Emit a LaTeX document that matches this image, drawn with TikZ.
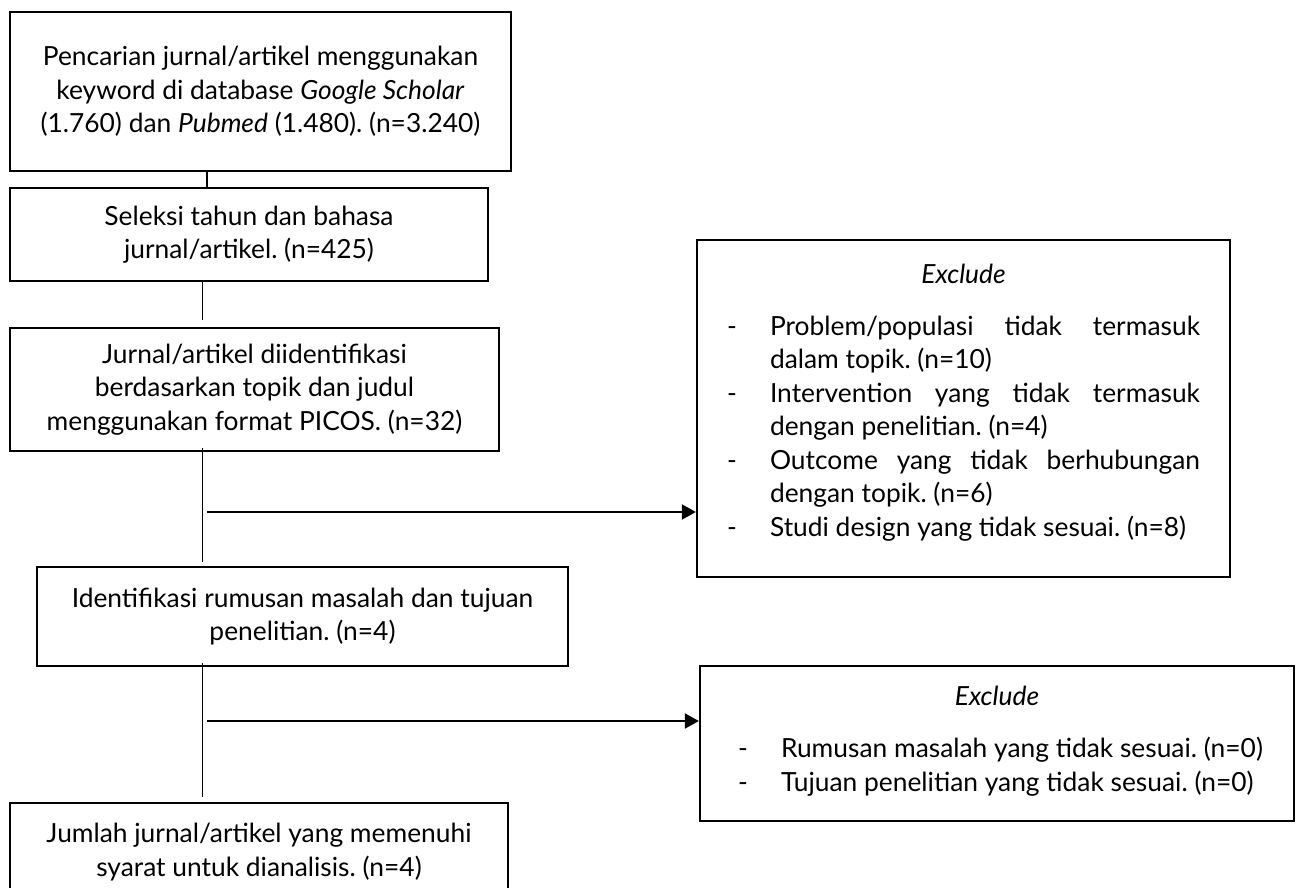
\documentclass[tikz,border=0pt]{standalone}
\usepackage{fontspec}
\setmainfont{Lato}
\usepackage{tikz}
\usetikzlibrary{arrows.meta, positioning, calc}
\frenchspacing
\newcommand{\ukuran}{\fontsize{15}{19.1}\selectfont}
\newcommand{\butir}[1]{\par\hangindent=0.86cm\hangafter=1\noindent\makebox[0.86cm][l]{-}#1}
\newcommand{\sisabawah}[1]{\par\kern#1\hrule height0pt}
\tikzset{
    kotak/.style={draw, line width=1.3pt, align=center, inner sep=0pt, font=\ukuran},
    kotak exclude/.style={draw, line width=1.3pt, align=justify, inner sep=0pt, font=\ukuran},
    garis/.style={line width=1.1pt},
    panah/.style={-{Triangle[length=2.8mm, width=3mm]}, line width=1.1pt},
}

\begin{document}
\begin{tikzpicture}
\useasboundingbox (0,0) rectangle (25.96,17.76);
% Alur seleksi artikel
\node[kotak, minimum width=10.02cm, minimum height=3.18cm] (cari) at (5.21,15.93)
  {Pencarian jurnal/artikel menggunakan\\ keyword di database \textit{Google Scholar}\\ (1.760) dan \textit{Pubmed} (1.480). (n=3.240)};
\node[kotak, minimum width=9.56cm, minimum height=1.86cm] (seleksi) at (4.98,13.07)
  {Seleksi tahun dan bahasa\\ jurnal/artikel. (n=425)};
\node[kotak, minimum width=9.78cm, minimum height=2.46cm] (identifikasi) at (5.09,9.97)
  {Jurnal/artikel diidentifikasi\\ berdasarkan topik dan judul\\ menggunakan format PICOS. (n=32)};
\node[kotak, minimum width=10.62cm, minimum height=1.98cm] (rumusan) at (6.05,5.43)
  {Identifikasi rumusan masalah dan tujuan\\ penelitian. (n=4)};
\node[kotak, minimum width=9.96cm, minimum height=1.96cm] (jumlah) at (5.18,0.72)
  {Jumlah jurnal/artikel yang memenuhi\\ syarat untuk dianalisis. (n=4)};

% Kotak exclude
\node[kotak exclude, minimum width=10.66cm, minimum height=6.74cm, text width=9.46cm] (exclude1) at (19.27,9.59)
  {{\centering\textit{Exclude}\par}\vspace{0.37cm}
   \butir{Problem/populasi tidak termasuk\linebreak dalam topik. (n=10)}
   \butir{Intervention yang tidak termasuk\linebreak dengan penelitian. (n=4)}
   \butir{Outcome yang tidak berhubungan\linebreak dengan topik. (n=6)}
   \butir{\mbox{Studi design yang tidak sesuai. (n=8)}}\sisabawah{0.24cm}};
\node[kotak exclude, minimum width=11.88cm, minimum height=3.1cm, text width=10.36cm] (exclude2) at (19.94,2.89)
  {{\centering\textit{Exclude}\par}\vspace{0.37cm}
   \butir{\mbox{Rumusan masalah yang tidak sesuai. (n=0)}}
   \butir{\mbox{Tujuan penelitian yang tidak sesuai. (n=0)}}\sisabawah{0.1cm}};

% Garis penghubung
\coordinate (batang) at (4.05,0);
\coordinate (batang atas) at (4.14,0);
\coordinate (cabang1) at (4.14,7.52);
\coordinate (cabang2) at (4.14,3.34);
\draw[garis] (cari.south -| batang atas) -- (seleksi.north -| batang atas);
\draw[garis] (seleksi.south -| batang) -- ($(identifikasi.north -| batang)+(0,0.14)$);
\draw[garis] ($(identifikasi.south -| batang)+(0,0.08)$) -- ($(rumusan.north -| batang)+(0,0.08)$);
\draw[garis] ($(rumusan.south -| batang)+(0,0.08)$) -- ($(jumlah.north -| batang)+(0,0.1)$);
\draw[panah] (cabang1) -- (cabang1 -| exclude1.west);
\draw[panah] (cabang2) -- (cabang2 -| exclude2.west);
\end{tikzpicture}
\end{document}
